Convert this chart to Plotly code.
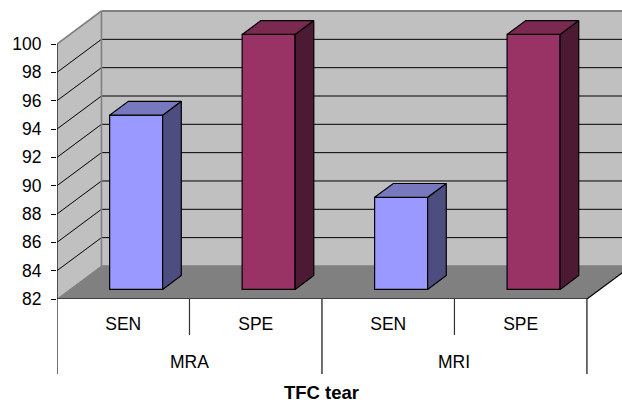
import plotly.graph_objects as go

groups = ["MRA", "MRI"]
measures = ["SEN", "SPE", "SEN", "SPE"]
values = [94.3, 100, 88.5, 100]
y_ticks = [82, 84, 86, 88, 90, 92, 94, 96, 98, 100]
face_colors = ["#9999FF", "#993366", "#9999FF", "#993366"]
side_colors = ["#4D4D80", "#4D1A33", "#4D4D80", "#4D1A33"]
top_colors = ["#7878BE", "#7A2950", "#7878BE", "#7A2950"]

W, H = 622, 403
L, BOTTOM_PX = 56.5, 298.7
CAT_PX = 132.6
UNIT_PX = 14.15
DX = 44.5 / CAT_PX      # depth of the 3-D box in category units
DY = 33 / UNIT_PX       # depth of the 3-D box in value units
YMIN, YMAX = y_ticks[0], y_ticks[-1]
BAR_W = 0.4
F0, F1 = 0.29, 0.71     # bar position along the depth


def paper(py):
    return (BOTTOM_PX - py) / BOTTOM_PX


def poly(points):
    return "M " + " L ".join(f"{x},{y}" for x, y in points) + " Z"


n = len(values)
shapes = []


def add_poly(points, fill, line=None, width=0):
    shapes.append(dict(type="path", path=poly(points), xref="x", yref="y", layer="below",
                       fillcolor=fill, line=dict(color=line or fill, width=width)))


def add_line(x0, y0, x1, y1, color, width=1.0, yref="y", layer="below"):
    shapes.append(dict(type="line", x0=x0, y0=y0, x1=x1, y1=y1, xref="x", yref=yref, layer=layer,
                       line=dict(color=color, width=width)))


# walls and floor
add_poly([(DX, YMIN + DY), (n + DX, YMIN + DY), (n + DX, YMAX + DY), (DX, YMAX + DY)], "#C0C0C0")
add_poly([(0, YMIN), (DX, YMIN + DY), (DX, YMAX + DY), (0, YMAX)], "#C0C0C0")
add_poly([(0, YMIN), (n, YMIN), (n + DX, YMIN + DY), (DX, YMIN + DY)], "#808080")

# gridlines
for v in y_ticks[1:-1]:
    add_line(0, v, DX, v + DY, "#000000")
    add_line(DX, v + DY, n + DX, v + DY, "#000000")

# wall edges
add_line(0, YMAX, DX, YMAX + DY, "#808080", 1.6)
add_line(DX, YMAX + DY, n + DX, YMAX + DY, "#808080", 2)
add_line(DX, YMIN + DY, DX, YMAX + DY, "#808080", 1.6)
add_line(DX, YMIN + DY, n + DX, YMIN + DY, "#808080", 1.4)
add_line(0, YMIN, DX, YMIN + DY, "#808080", 1)
add_line(0, YMIN, 0, YMAX, "#000000", 1.2)
add_line(0, YMIN, n, YMIN, "#000000", 1.2)
add_line(n, YMIN, n + DX, YMIN + DY, "#000000", 1.2)

# multi-level category dividers
for x in [1, 3]:
    add_line(x, 0, x, paper(334.7), "#333333", 1.2, yref="paper", layer="above")
for x in [0, 2, 4]:
    add_line(x, 0, x, paper(373.7), "#111111", 1.2, yref="paper", layer="above")

fig = go.Figure()

# front faces, drawn by bars
centers = [i + 0.5 for i in range(n)]
xf = [c + F0 * DX for c in centers]
base = YMIN + F0 * DY
fig.add_trace(go.Bar(
    x=xf, y=[v - YMIN for v in values], base=base, width=BAR_W,
    marker=dict(color=face_colors, line=dict(color="#000000", width=1.2)),
    hoverinfo="skip", showlegend=False,
))

# side and top faces
ddx = (F1 - F0) * DX
ddy = (F1 - F0) * DY
for c, v, sc, tc in zip(xf, values, side_colors, top_colors):
    xl, xr = c - BAR_W / 2, c + BAR_W / 2
    top = v + F0 * DY
    fig.add_trace(go.Scatter(
        x=[xr, xr + ddx, xr + ddx, xr, xr], y=[base, base + ddy, top + ddy, top, base],
        mode="lines", fill="toself", fillcolor=sc, line=dict(color="#000000", width=1.2),
        hoverinfo="skip", showlegend=False,
    ))
    fig.add_trace(go.Scatter(
        x=[xl, xl + ddx, xr + ddx, xr, xl], y=[top, top + ddy, top + ddy, top, top],
        mode="lines", fill="toself", fillcolor=tc, line=dict(color="#000000", width=1.2),
        hoverinfo="skip", showlegend=False,
    ))

font = dict(family="Liberation Sans, Arial, sans-serif", size=17.5, color="#000000")
title_font = dict(family="Liberation Sans, Arial, sans-serif", size=18.5, color="#000000")
annotations = [
    dict(text=g, x=2 * i + 1, y=paper(361.5), xref="x", yref="paper", showarrow=False, font=font,
         xanchor="center", yanchor="middle")
    for i, g in enumerate(groups)
]
annotations.append(dict(text="<b>TFC tear</b>", x=n / 2, y=paper(392.5), xref="x", yref="paper",
                        showarrow=False, font=title_font, xanchor="center", yanchor="middle"))

fig.update_layout(
    width=W, height=H, autosize=False,
    margin=dict(l=L, r=0, t=0, b=H - BOTTOM_PX, pad=0),
    paper_bgcolor="#FFFFFF", plot_bgcolor="rgba(0,0,0,0)",
    font=font, shapes=shapes, annotations=annotations, showlegend=False,
    xaxis=dict(range=[0, (W - L) / CAT_PX], tickmode="array", tickvals=centers, ticktext=measures,
               showgrid=False, zeroline=False, showline=False, ticks="", tickfont=font,
               ticklabelstandoff=12),
    yaxis=dict(range=[YMIN, YMIN + BOTTOM_PX / UNIT_PX], tickmode="array", tickvals=y_ticks,
               showgrid=False, zeroline=False, showline=False, ticks="outside", ticklen=5,
               tickcolor="#000000", tickwidth=1.2, tickfont=font, ticklabelstandoff=6),
)
fig.write_html("out.html", config=dict(displayModeBar=False),
               post_script="document.body.style.margin='0';document.documentElement.style.overflow='hidden';")
